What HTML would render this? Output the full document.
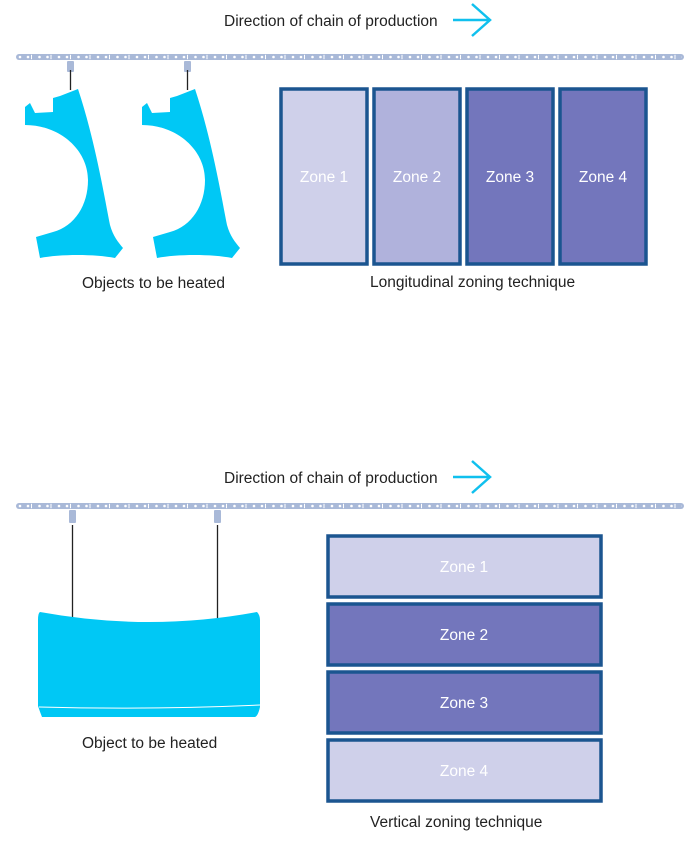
<!DOCTYPE html>
<html><head><style>
body{margin:0;background:#fff;width:700px;height:839px;overflow:hidden}
text{font-family:"Liberation Sans",sans-serif;font-size:15.5px;fill:#222}
.z{font-size:15.5px;fill:#fff;text-anchor:middle}
</style></head><body>
<svg width="700" height="839" viewBox="0 0 700 839">
<defs>
<pattern id="ch" x="16" y="54" width="19.5" height="6" patternUnits="userSpaceOnUse">
<circle cx="4" cy="3" r="1.3" fill="#fff"/><circle cx="12" cy="3" r="1.3" fill="#fff"/><rect x="15" y="0.8" width="1" height="4.4" fill="#fff"/>
</pattern>
<pattern id="ch2" x="16" y="503" width="19.5" height="6" patternUnits="userSpaceOnUse">
<circle cx="4" cy="3" r="1.3" fill="#fff"/><circle cx="12" cy="3" r="1.3" fill="#fff"/><rect x="15" y="0.8" width="1" height="4.4" fill="#fff"/>
</pattern>
<g id="fender">
<path d="M78,89 C95,140 105,200 110,225 C113,236 118,242 123,248 L115,258 C95,254 60,254 40,258 L36,237 L53,232 C75,226 88,205 88,180 C88,150 60,125 25,125 L25,107 L30,103 L35,113 L53,112 L53,98 L60,96 Z" fill="#00c8f5"/>
<rect x="67" y="61" width="7" height="11" rx="1" fill="#a9b9d8"/>
<line x1="70.5" y1="70" x2="70.5" y2="90" stroke="#222" stroke-width="1.3"/>
</g>
</defs>
<text x="224" y="26">Direction of chain of production</text>
<path d="M453,20 H490 M472,4 L490,20 L472,36" stroke="#10c0ee" stroke-width="2.5" fill="none"/>
<rect x="16" y="54" width="668" height="6" rx="3" fill="#a9b9d8"/>
<rect x="18" y="54" width="664" height="6" fill="url(#ch)"/>
<use href="#fender"/>
<use href="#fender" x="117"/>
<text x="82" y="288">Objects to be heated</text>
<g stroke="#1b5590" stroke-width="3.5">
<rect x="281" y="89" width="86" height="175" fill="#cfd0ea"/>
<rect x="374" y="89" width="86" height="175" fill="#b0b2dc"/>
<rect x="467" y="89" width="86" height="175" fill="#7376bc"/>
<rect x="560" y="89" width="86" height="175" fill="#7376bc"/>
</g>
<text class="z" x="324" y="182">Zone 1</text>
<text class="z" x="417" y="182">Zone 2</text>
<text class="z" x="510" y="182">Zone 3</text>
<text class="z" x="603" y="182">Zone 4</text>
<text x="370" y="287">Longitudinal zoning technique</text>

<text x="224" y="483">Direction of chain of production</text>
<path d="M453,477 H490 M472,461 L490,477 L472,493" stroke="#10c0ee" stroke-width="2.5" fill="none"/>
<rect x="16" y="503" width="668" height="6" rx="3" fill="#a9b9d8"/>
<rect x="18" y="503" width="664" height="6" fill="url(#ch2)"/>
<rect x="69" y="510" width="7" height="13" rx="1" fill="#a9b9d8"/>
<rect x="214" y="510" width="7" height="13" rx="1" fill="#a9b9d8"/>
<line x1="72.5" y1="525" x2="72.5" y2="618" stroke="#222" stroke-width="1.3"/>
<line x1="217.5" y1="525" x2="217.5" y2="618" stroke="#222" stroke-width="1.3"/>
<path d="M40,612 Q150,632 257,612 Q260,615 260,620 L260,707 Q258,716 255,717 L42,717 Q40,712 38,706 L38,620 Q38,613 40,612 Z" fill="#00c8f5"/>
<path d="M39,707 Q150,710 260,705" stroke="#fff" stroke-width="1" fill="none"/>
<text x="82" y="748">Object to be heated</text>
<g stroke="#1b5590" stroke-width="3.5">
<rect x="328" y="536" width="273" height="61" fill="#cfd0ea"/>
<rect x="328" y="604" width="273" height="61" fill="#7376bc"/>
<rect x="328" y="672" width="273" height="61" fill="#7376bc"/>
<rect x="328" y="740" width="273" height="61" fill="#cfd0ea"/>
</g>
<text class="z" x="464" y="572">Zone 1</text>
<text class="z" x="464" y="640">Zone 2</text>
<text class="z" x="464" y="708">Zone 3</text>
<text class="z" x="464" y="776">Zone 4</text>
<text x="370" y="827">Vertical zoning technique</text>
</svg>
</body></html>
